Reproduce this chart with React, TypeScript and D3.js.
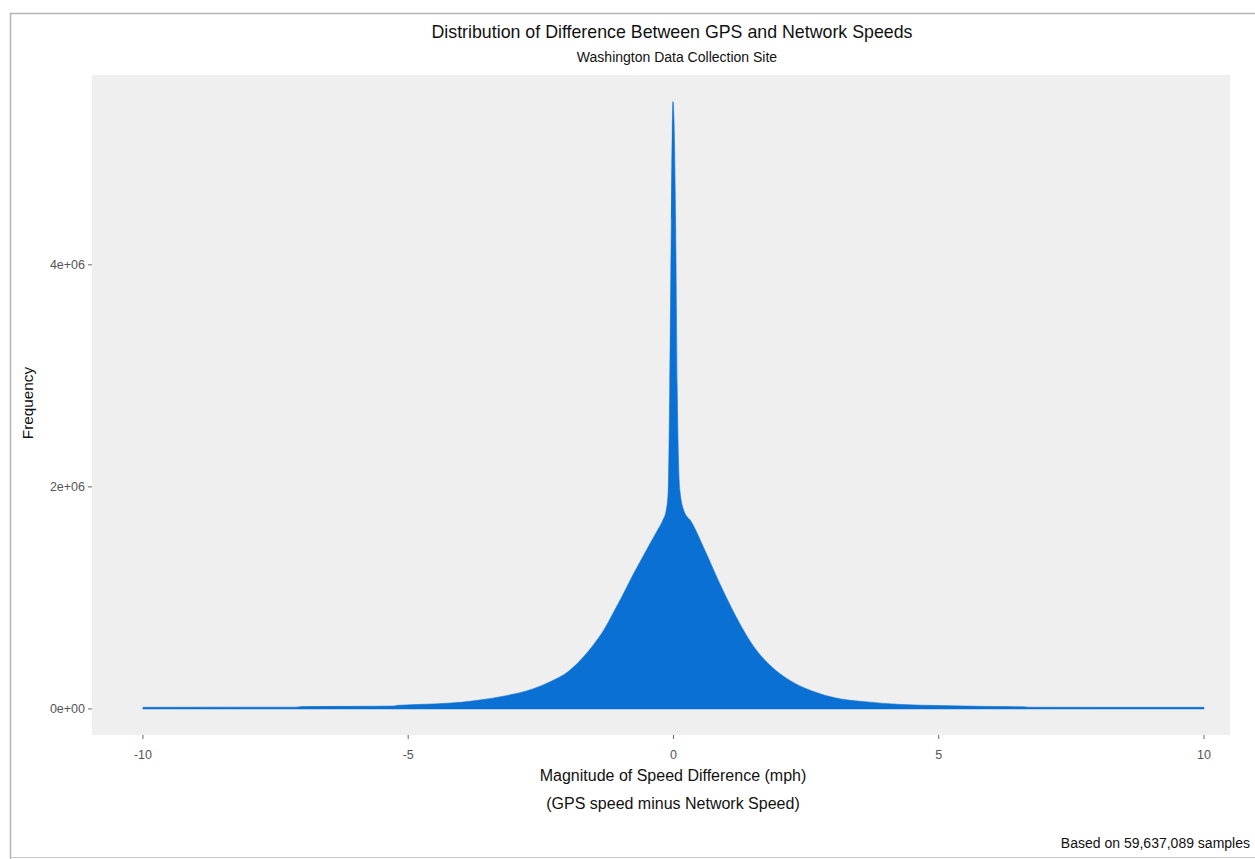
import * as d3 from 'd3';

// speed difference (mph) and histogram frequency
const speedDiff = [
  -10, -9, -8, -7.1, -7.0, -6, -5.25, -5.2, -4.5, -4.0, -3.65, -3.2, -2.65, -2.3, -2.0, -1.75, -1.52,
  -1.3, -1.14, -0.95, -0.76, -0.6, -0.44, -0.3, -0.2, -0.14, -0.1, -0.07, -0.04, -0.01, 0.01, 0.04,
  0.07, 0.12, 0.2, 0.33, 0.59, 0.9, 1.27, 1.5, 1.72, 2.0, 2.29, 2.65, 3.04, 3.6, 4.29, 5.0, 6.0, 6.6,
  6.7, 8.0, 9.0, 10,
];
const frequency = [
  14000, 15000, 16000, 16000, 21000, 23000, 26000, 32000, 45000, 60000, 80000, 115000, 180000,
  250000, 330000, 440000, 570000, 720000, 860000, 1030000, 1210000, 1350000, 1490000, 1610000,
  1700000, 1780000, 1950000, 2900000, 4400000, 5470000, 5300000, 4400000, 2900000, 1970000, 1780000,
  1690000, 1430000, 1100000, 750000, 570000, 440000, 320000, 230000, 155000, 100000, 65000, 40000,
  30000, 22000, 19000, 15000, 14000, 14000, 14000,
];

const xTicks = [-10, -5, 0, 5, 10];
const yTicks = [0, 2e6, 4e6];
const yTickLabels = ['0e+00', '2e+06', '4e+06'];

const WIDTH = 1255;
const HEIGHT = 859;
const panel = { left: 92, right: 1230, top: 75, bottom: 735 };
const FONT = '"Liberation Sans", Arial, sans-serif';

export default function App() {
  const x = d3.scaleLinear().domain([-10.96, 10.49]).range([panel.left, panel.right]);
  const y = d3.scaleLinear().domain([-235000, 5710000]).range([panel.bottom, panel.top]);

  const points = speedDiff.map((d, i) => ({ x: d, y: frequency[i] }));
  const area = d3
    .area<{ x: number; y: number }>()
    .x((d) => x(d.x))
    .y0(y(0))
    .y1((d) => y(d.y))
    .curve(d3.curveMonotoneX);

  return (
    <div style={{ position: 'absolute', left: 0, top: 0, width: WIDTH, height: HEIGHT, background: '#fff' }}>
      <svg width={WIDTH} height={HEIGHT} style={{ display: 'block', fontFamily: FONT }}>
        <rect x={0} y={0} width={WIDTH} height={HEIGHT} fill="#fff" />
        {/* outer frame */}
        <path d={`M10.5,${HEIGHT} V13.5 H${WIDTH}`} fill="none" stroke="#b5b5b5" strokeWidth={1.5} />
        <path d={`M10.5,857.5 H${WIDTH}`} fill="none" stroke="#c8c8c8" strokeWidth={1} />

        <text x={672} y={38} textAnchor="middle" fontSize={17.8} fill="#111">
          Distribution of Difference Between GPS and Network Speeds
        </text>
        <text x={677} y={62} textAnchor="middle" fontSize={14} fill="#111">
          Washington Data Collection Site
        </text>

        <rect
          x={panel.left}
          y={panel.top}
          width={panel.right - panel.left}
          height={panel.bottom - panel.top}
          fill="#efefef"
        />

        <path d={area(points) ?? ''} fill="#0a70d4" stroke="#0a70d4" strokeWidth={0.6} />

        {yTicks.map((t, i) => (
          <g key={t} transform={`translate(0,${y(t)})`}>
            <line x1={panel.left - 4} x2={panel.left} stroke="#666" strokeWidth={1} />
            <text x={panel.left - 7} dy="0.35em" textAnchor="end" fontSize={12.5} fill="#555">
              {yTickLabels[i]}
            </text>
          </g>
        ))}
        {xTicks.map((t) => (
          <g key={t} transform={`translate(${x(t)},0)`}>
            <line y1={panel.bottom} y2={panel.bottom + 4} stroke="#666" strokeWidth={1} />
            <text y={panel.bottom + 20} dy="0.35em" textAnchor="middle" fontSize={12.5} fill="#555">
              {t}
            </text>
          </g>
        ))}

        <text
          transform={`translate(33,${(panel.top + panel.bottom) / 2 - 2}) rotate(-90)`}
          textAnchor="middle"
          fontSize={15.3}
          fill="#111"
        >
          Frequency
        </text>
        <text x={673} y={781} textAnchor="middle" fontSize={16} fill="#111">
          Magnitude of Speed Difference (mph)
        </text>
        <text x={673} y={809} textAnchor="middle" fontSize={16} fill="#111">
          (GPS speed minus Network Speed)
        </text>
        <text x={1250} y={848} textAnchor="end" fontSize={14} fill="#111">
          Based on 59,637,089 samples
        </text>
      </svg>
    </div>
  );
}
